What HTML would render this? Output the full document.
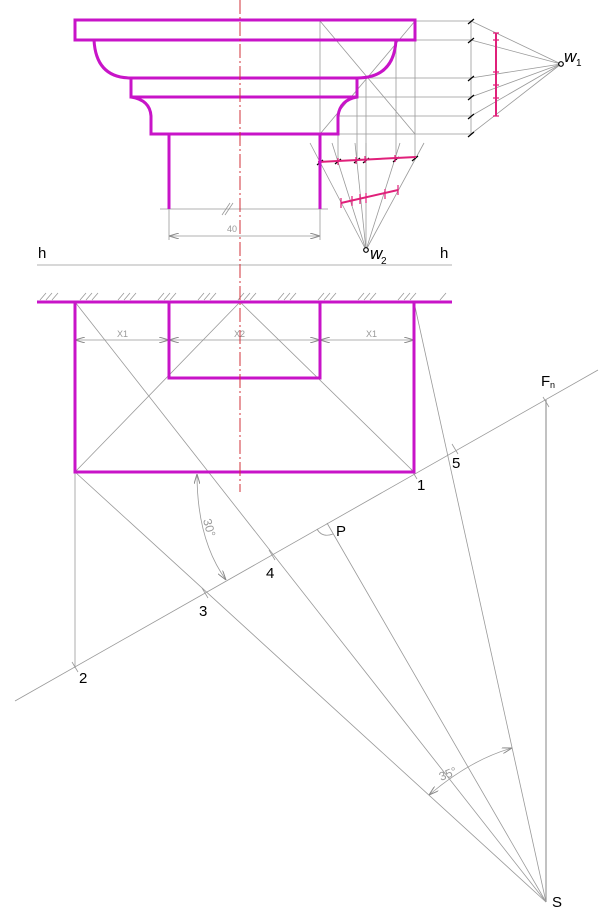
<!DOCTYPE html>
<html><head><meta charset="utf-8"><style>
html,body{margin:0;padding:0;background:#fff;}
svg{display:block;}
text{font-family:"Liberation Sans",sans-serif;}
</style></head><body>
<svg width="611" height="911" viewBox="0 0 611 911" xmlns="http://www.w3.org/2000/svg">
<defs>
<marker id="ar" viewBox="0 0 10 6" refX="10" refY="3" markerWidth="10" markerHeight="6" orient="auto-start-reverse" markerUnits="userSpaceOnUse"><path d="M0,0 L10,3 L0,6" fill="none" stroke="#888" stroke-width="1"/></marker>
</defs>
<g stroke="#999" stroke-width="0.8" fill="none">
<!-- top construction -->
<line x1="320" y1="21" x2="471" y2="21"/><line x1="415" y1="40" x2="471" y2="40"/>
<line x1="357" y1="78" x2="471" y2="78"/><line x1="340" y1="97" x2="471" y2="97"/>
<line x1="338" y1="116" x2="471" y2="116"/><line x1="320" y1="134" x2="471" y2="134"/>
<line x1="471" y1="21" x2="471" y2="134"/>
<line x1="320" y1="21" x2="320" y2="162"/><line x1="415" y1="21" x2="415" y2="158"/>
<line x1="338" y1="116" x2="338" y2="161"/><line x1="357" y1="78" x2="357" y2="160"/>
<line x1="366" y1="78" x2="366" y2="160"/><line x1="396" y1="40" x2="396" y2="159"/>
<line x1="320" y1="21" x2="415" y2="134"/><line x1="415" y1="21" x2="320" y2="134"/>
<line x1="471" y1="21" x2="561" y2="64"/><line x1="471" y1="40" x2="561" y2="64"/>
<line x1="471" y1="78" x2="561" y2="64"/><line x1="471" y1="97" x2="561" y2="64"/>
<line x1="471" y1="116" x2="561" y2="64"/><line x1="471" y1="134" x2="561" y2="64"/>
<line x1="366" y1="250" x2="310" y2="143"/><line x1="366" y1="250" x2="332" y2="143"/>
<line x1="366" y1="250" x2="355" y2="143"/><line x1="366" y1="250" x2="366" y2="143"/>
<line x1="366" y1="250" x2="400" y2="143"/><line x1="366" y1="250" x2="424" y2="143"/>
<!-- dimension 40 -->
<line x1="160" y1="209" x2="328" y2="209"/>
<line x1="169" y1="209" x2="169" y2="240"/><line x1="320" y1="209" x2="320" y2="240"/>
<line x1="169" y1="236" x2="320" y2="236" marker-start="url(#ar)" marker-end="url(#ar)"/>
<line x1="222" y1="215" x2="230" y2="203"/><line x1="225" y1="215" x2="233" y2="203"/>
<!-- h line -->
<line x1="37" y1="265" x2="452" y2="265"/>
<!-- bottom plan -->
<line x1="75" y1="472" x2="240" y2="302"/><line x1="240" y1="302" x2="414" y2="472"/>
<line x1="75" y1="340" x2="169" y2="340" marker-start="url(#ar)" marker-end="url(#ar)"/>
<line x1="169" y1="340" x2="320" y2="340" marker-start="url(#ar)" marker-end="url(#ar)"/>
<line x1="320" y1="340" x2="414" y2="340" marker-start="url(#ar)" marker-end="url(#ar)"/>
<line x1="15" y1="701" x2="598" y2="370"/>
<line x1="75" y1="472" x2="75" y2="668"/>
<line x1="75" y1="472" x2="546" y2="902"/>
<line x1="75" y1="302" x2="546" y2="902"/>
<line x1="327" y1="523" x2="546" y2="902"/>
<line x1="414" y1="302" x2="546" y2="902"/>
<line x1="546" y1="400" x2="546" y2="902" stroke-width="1.2"/>
<path d="M197,474 Q197,540 226,580" marker-start="url(#ar)" marker-end="url(#ar)"/>
<path d="M429,795 Q470,760 512,748" marker-start="url(#ar)" marker-end="url(#ar)"/>
<path d="M317,529 Q322,538 333,534"/>
<!-- ticks -->
<line x1="72" y1="662" x2="78" y2="672"/><line x1="202" y1="588" x2="208" y2="598"/>
<line x1="269" y1="550" x2="275" y2="560"/><line x1="411" y1="469" x2="417" y2="479"/>
<line x1="452" y1="444" x2="458" y2="454"/><line x1="543" y1="397" x2="549" y2="407"/>
</g>
<!-- hatching -->
<g stroke="#999" stroke-width="0.8">
<path d="M40,300l6,-7M46,300l6,-7M52,300l6,-7 M80,300l6,-7M86,300l6,-7M92,300l6,-7 M118,300l6,-7M124,300l6,-7M130,300l6,-7 M158,300l6,-7M164,300l6,-7M170,300l6,-7 M198,300l6,-7M204,300l6,-7M210,300l6,-7 M238,300l6,-7M244,300l6,-7M250,300l6,-7 M278,300l6,-7M284,300l6,-7M290,300l6,-7 M318,300l6,-7M324,300l6,-7M330,300l6,-7 M358,300l6,-7M364,300l6,-7M370,300l6,-7 M398,300l6,-7M404,300l6,-7M410,300l6,-7 M440,300l6,-7"/>
</g>
<!-- black ticks -->
<g stroke="#000" stroke-width="1.2">
<path d="M468,24l6,-5M468,43l6,-5M468,81l6,-5M468,100l6,-5M468,119l6,-5M468,137l6,-5"/>
<path d="M317,165l6,-5M335,164l6,-5M354,163l6,-5M363,163l6,-5M393,162l6,-5M412,161l6,-5"/>
</g>
<!-- red marks -->
<g stroke="#e0207a" stroke-width="2" fill="none">
<line x1="496" y1="33" x2="496" y2="116"/>
<line x1="318" y1="162" x2="416" y2="157"/>
<line x1="341" y1="203" x2="398" y2="190"/>
</g>
<g stroke="#e0207a" stroke-width="1.2">
<path d="M493,33h6M493,40h6M493,72h6M493,85h6M493,98h6M493,116h6"/>
<path d="M341,198v10M352,196v10M360,194v10M366,193v10M385,189v10M398,185v10"/>
<path d="M338,158v7M356,157v7M365,156v7M395,155v7"/>
</g>
<!-- magenta profile -->
<g stroke="#c814c8" stroke-width="3" fill="none">
<rect x="75" y="20" width="340" height="20"/>
<path d="M94,40 Q96,78 131,78"/>
<path d="M396,40 Q394,78 357,78"/>
<rect x="131" y="78" width="226" height="19"/>
<path d="M131,97 Q150,100 151,116 L151,134 L338,134 L338,116 Q340,100 357,97"/>
<line x1="169" y1="134" x2="169" y2="209"/>
<line x1="320" y1="134" x2="320" y2="209"/>
<line x1="37" y1="302" x2="452" y2="302"/>
<rect x="75" y="302" width="339" height="170"/>
<path d="M169,302 V378 H320 V302"/>
</g>
<line x1="240" y1="0" x2="240" y2="492" stroke="#d0303a" stroke-width="1" stroke-dasharray="14,3,2,3"/>
<circle cx="561" cy="64" r="2.3" fill="#fff" stroke="#000" stroke-width="1.2"/>
<circle cx="366" cy="250" r="2.3" fill="#fff" stroke="#000" stroke-width="1.2"/>
<g fill="#000" font-size="15">
<text x="564" y="62" font-family="Liberation Serif,serif" font-style="italic" font-size="17">w</text><text x="576" y="66" font-size="10">1</text>
<text x="370" y="259" font-family="Liberation Serif,serif" font-style="italic" font-size="17">w</text><text x="381" y="264" font-size="10">2</text>
<text x="38" y="258">h</text><text x="440" y="258">h</text>
<text x="417" y="490">1</text><text x="79" y="683">2</text><text x="199" y="616">3</text>
<text x="266" y="578">4</text><text x="452" y="468">5</text><text x="336" y="536">P</text>
<text x="541" y="386">F</text><text x="550" y="388" font-size="9">n</text>
<text x="552" y="907">S</text>
</g>
<g fill="#999" font-size="9">
<text x="227" y="232">40</text>
<text x="117" y="337">X1</text><text x="234" y="337">X2</text><text x="366" y="337">X1</text>
</g>
<text transform="translate(203,520) rotate(75)" fill="#999" font-size="12">30°</text>
<text transform="translate(441,781) rotate(-22)" fill="#999" font-size="12">35°</text>
</svg>
</body></html>
